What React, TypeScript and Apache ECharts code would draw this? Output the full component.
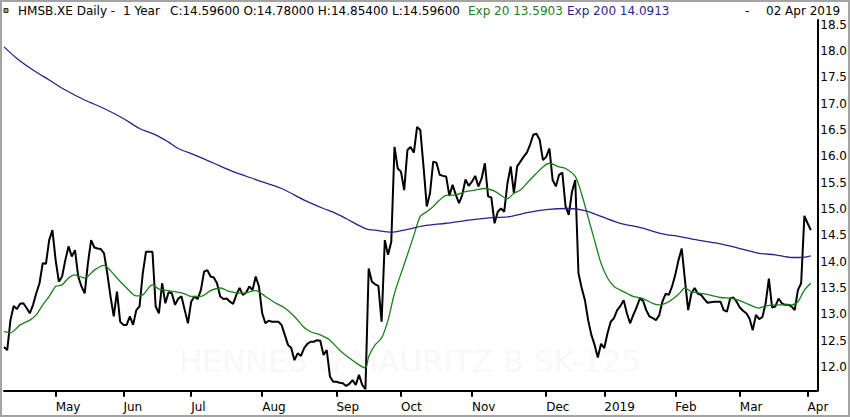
import React, { useEffect, useRef } from "react";
import * as echarts from "echarts";

// Month start positions (trading-day index) and labels on the time axis
const monthLabels = ["May", "Jun", "Jul", "Aug", "Sep", "Oct", "Nov", "Dec", "2019", "Feb", "Mar", "Apr"];
const monthStartIdx = [16, 37, 58, 80, 103, 123, 145, 168, 186, 208, 228, 249];

// Daily close, HMSB.XE, one year of trading days
const closeValues = [
  12.38, 12.32, 12.89, 13.16, 13.10, 13.20, 13.21, 13.12, 13.02, 13.18,
  13.40, 13.59, 13.97, 13.96, 14.41, 14.60, 14.03, 13.62, 13.72, 14.03,
  14.29, 14.10, 14.22, 13.72, 13.53, 13.40, 13.97, 14.41, 14.27, 14.25,
  14.24, 14.16, 13.78, 13.34, 12.96, 13.43, 12.86, 12.80, 12.80, 12.96,
  12.80, 13.08, 13.15, 13.78, 14.19, 14.19, 14.19, 13.15, 13.02, 13.59,
  13.21, 13.42, 13.40, 13.18, 13.30, 13.34, 13.08, 12.83, 13.24, 13.34,
  13.29, 13.46, 13.81, 13.84, 13.72, 13.70, 13.59, 13.34, 13.29, 13.30,
  13.24, 13.20, 13.37, 13.50, 13.37, 13.41, 13.53, 13.46, 13.72, 13.53,
  13.02, 12.83, 12.88, 12.86, 12.86, 12.86, 12.80, 12.61, 12.42, 12.36,
  12.13, 12.26, 12.21, 12.36, 12.44, 12.48, 12.48, 12.51, 12.50, 12.23,
  12.32, 11.82, 11.72, 11.72, 11.70, 11.69, 11.64, 11.68, 11.75, 11.66,
  11.85, 11.66, 11.58, 13.87, 13.62, 13.57, 13.54, 12.86, 14.41, 14.13,
  14.38, 16.18, 15.77, 15.71, 15.36, 16.12, 16.18, 16.07, 16.56, 16.50,
  15.80, 15.05, 15.30, 15.90, 15.88, 15.65, 15.63, 15.62, 15.25, 15.46,
  15.27, 15.11, 15.27, 15.56, 15.44, 15.52, 15.63, 15.43, 15.58, 15.87,
  15.24, 15.22, 14.73, 14.95, 15.01, 14.95, 15.49, 15.81, 15.30, 15.81,
  15.90, 15.99, 16.07, 16.22, 16.41, 16.43, 16.31, 15.93, 15.99, 16.15,
  15.55, 15.43, 15.65, 15.69, 15.05, 14.89, 15.33, 15.55, 13.78, 13.50,
  13.27, 12.89, 12.61, 12.42, 12.18, 12.44, 12.36, 12.64, 12.86, 12.93,
  13.08, 13.16, 13.27, 13.02, 12.83, 12.99, 13.13, 13.30, 13.26, 13.08,
  12.96, 12.93, 12.89, 12.98, 13.24, 13.39, 13.37, 13.53, 13.75, 14.03,
  14.25, 13.65, 13.08, 13.40, 13.50, 13.39, 13.37, 13.29, 13.22, 13.23,
  13.24, 13.24, 13.24, 13.08, 13.05, 13.30, 13.32, 13.24, 13.13, 13.07,
  13.02, 12.92, 12.70, 12.99, 12.91, 12.95, 13.21, 13.68, 13.13, 13.15,
  13.30, 13.21, 13.18, 13.18, 13.15, 13.08, 13.46, 13.59, 14.87, 14.73,
  14.60,
];

// Exp 20: [trading-day index, value]
const ema20Points = [
  [0, 12.67], [2, 12.65], [5, 12.80], [8, 12.89], [10, 12.99], [12, 13.18], [14, 13.34],
  [16, 13.53], [18, 13.56], [20, 13.69], [22, 13.75], [25, 13.69], [28, 13.84], [31, 13.93],
  [33, 13.83], [35, 13.69], [38, 13.50], [41, 13.35], [43, 13.37], [46, 13.56], [48, 13.48],
  [50, 13.46], [53, 13.43], [56, 13.39], [58, 13.34], [61, 13.34], [64, 13.45], [67, 13.50],
  [70, 13.43], [74, 13.40], [78, 13.45], [81, 13.34], [84, 13.22], [87, 13.12], [90, 12.96],
  [93, 12.75], [95, 12.67], [98, 12.61], [101, 12.51], [104, 12.32], [107, 12.17], [110, 12.04],
  [112, 11.98], [113, 12.20], [115, 12.42], [117, 12.55], [119, 12.89], [121, 13.40], [124, 13.95],
  [127, 14.50], [129, 14.86], [131, 14.95], [133, 15.05], [135, 15.17], [137, 15.26], [140, 15.27],
  [143, 15.33], [146, 15.36], [149, 15.39], [152, 15.34], [156, 15.20], [158, 15.30], [160, 15.36],
  [162, 15.49], [165, 15.68], [167, 15.80], [169, 15.87], [172, 15.80], [174, 15.77], [177, 15.62],
  [179, 15.28], [181, 14.84], [183, 14.40], [185, 13.97], [187, 13.69], [189, 13.53], [191, 13.46],
  [193, 13.40], [195, 13.34], [198, 13.30], [201, 13.21], [203, 13.18], [206, 13.24], [209, 13.38],
  [211, 13.50], [213, 13.43], [217, 13.39], [222, 13.32], [226, 13.30], [230, 13.21], [234, 13.12],
  [236, 13.16], [240, 13.18], [244, 13.18], [246, 13.24], [248, 13.46], [250, 13.59],
];

// Exp 200: [trading-day index, value]
const ema200Points = [
  [0, 18.08], [4, 17.86], [9, 17.64], [14, 17.45], [19, 17.26], [25, 17.07], [31, 16.91],
  [37, 16.72], [42, 16.53], [47, 16.41], [51, 16.27], [54, 16.15], [59, 16.03], [65, 15.87],
  [71, 15.71], [78, 15.56], [86, 15.39], [93, 15.17], [99, 15.01], [102, 14.94], [106, 14.82],
  [112, 14.63], [116, 14.59], [120, 14.56], [124, 14.60], [130, 14.68], [137, 14.73], [144, 14.79],
  [152, 14.84], [156, 14.85], [162, 14.93], [168, 14.99], [175, 15.01], [180, 14.97], [185, 14.86],
  [191, 14.73], [197, 14.65], [204, 14.53], [209, 14.48], [215, 14.41], [222, 14.34], [228, 14.25],
  [234, 14.16], [239, 14.13], [244, 14.08], [247, 14.08], [250, 14.11],
];

const yTickValues = [12, 12.5, 13, 13.5, 14, 14.5, 15, 15.5, 16, 16.5, 17, 17.5, 18, 18.5];
const totalSlots = 253;

const FONT = "DejaVu Sans";
const GREEN = "#1b7f1b";
const BLUE = "#2d1f8f";

export default function App() {
  const ref = useRef<HTMLDivElement>(null);

  useEffect(() => {
    document.body.style.margin = "0";
    const chart = echarts.init(ref.current!, null, { renderer: "svg" });
    const categories = Array.from({ length: totalSlots }, (_, i) => String(i));
    const labelAt = new Map<number, string>(monthStartIdx.map((ix, k) => [ix, monthLabels[k]]));
    const f12 = `12px "${FONT}"`;

    const headerText = (text: string, x: number, fill: string) => ({
      type: "text",
      x,
      y: 11,
      z: 50,
      style: { text, fill, font: f12, textVerticalAlign: "middle", verticalAlign: "middle" },
    });

    chart.setOption({
      animation: false,
      backgroundColor: "#ffffff",
      textStyle: { fontFamily: FONT },
      grid: { left: 4, right: 32, top: 20, bottom: 26.3, containLabel: false },
      xAxis: {
        type: "category",
        data: categories,
        boundaryGap: false,
        axisLine: { show: true, lineStyle: { color: "#000", width: 2 } },
        axisTick: {
          show: true,
          interval: (i: number) => labelAt.has(i),
          length: 6,
          lineStyle: { color: "#000", width: 2 },
        },
        axisLabel: {
          interval: (i: number) => labelAt.has(i),
          formatter: (_v: string, i: number) => labelAt.get(i) ?? "",
          align: "left",
          margin: 10,
          color: "#000",
          fontSize: 12,
          fontFamily: FONT,
        },
        splitLine: { show: false },
      },
      yAxis: {
        type: "value",
        position: "right",
        min: 11.55,
        max: 18.59,
        axisLine: { show: true, lineStyle: { color: "#000", width: 2 } },
        axisTick: { show: false },
        splitLine: { show: false },
        axisLabel: {
          customValues: yTickValues,
          formatter: (v: number) => v.toFixed(1),
          margin: 3,
          color: "#000",
          fontSize: 12,
          fontFamily: FONT,
        },
      },
      series: [
        {
          name: "Close",
          type: "line",
          data: closeValues,
          showSymbol: false,
          lineStyle: { color: "#000", width: 2 },
          z: 3,
        },
        {
          name: "Exp 20",
          type: "line",
          data: ema20Points,
          showSymbol: false,
          smooth: 0.3,
          lineStyle: { color: GREEN, width: 1.3 },
          z: 4,
        },
        {
          name: "Exp 200",
          type: "line",
          data: ema200Points,
          showSymbol: false,
          smooth: 0.3,
          lineStyle: { color: BLUE, width: 1.3 },
          z: 4,
        },
      ],
      graphic: [
        {
          type: "text",
          x: 410,
          y: 361,
          z: 0,
          style: {
            text: "HENNES & MAURITZ B SK-125",
            fill: "#f8f8f8",
            font: `31px "${FONT}"`,
            textAlign: "center",
            align: "center",
            textVerticalAlign: "middle",
            verticalAlign: "middle",
          },
        },
        {
          type: "rect",
          z: 50,
          shape: { x: 4, y: 8.5, width: 4, height: 4 },
          style: { fill: "#a89e3c", stroke: "#333", lineWidth: 1 },
        },
        headerText("HMSB.XE Daily -", 18, "#000"),
        headerText("1 Year", 123, "#000"),
        headerText("C:14.59600 O:14.78000 H:14.85400 L:14.59600", 170, "#000"),
        headerText("Exp 20 13.5903", 468, GREEN),
        headerText("Exp 200 14.0913", 567, BLUE),
        headerText("-", 745, "#000"),
        headerText("02 Apr 2019", 766, "#000"),
        {
          type: "rect",
          z: 100,
          shape: { x: 1, y: 1, width: 848, height: 415 },
          style: { fill: "none", stroke: "#a3a3a3", lineWidth: 2 },
        },
      ],
    });

    return () => chart.dispose();
  }, []);

  return <div ref={ref} style={{ width: 850, height: 417 }} />;
}
